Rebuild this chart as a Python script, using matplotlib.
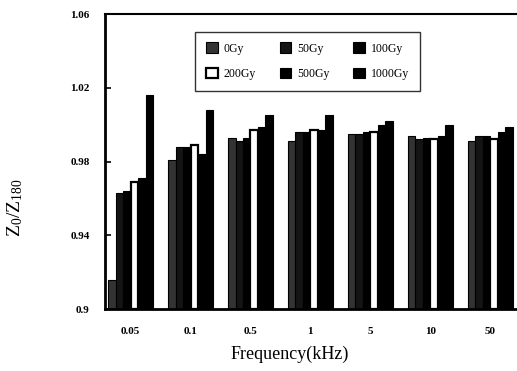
import numpy as np
import matplotlib.pyplot as plt

plt.rcParams['font.family'] = ['Liberation Serif', 'DejaVu Serif']
plt.rcParams['mathtext.fontset'] = 'custom'
plt.rcParams['mathtext.rm'] = 'Liberation Serif'

# Dados
freqs = ['0.05', '0.1', '0.5', '1', '5', '10', '50']
doses = ['0Gy', '50Gy', '100Gy', '200Gy', '500Gy', '1000Gy']
g0 = [0.916, 0.981, 0.993, 0.991, 0.995, 0.994, 0.991]
g50 = [0.963, 0.988, 0.991, 0.996, 0.995, 0.992, 0.994]
g100 = [0.964, 0.988, 0.993, 0.996, 0.996, 0.993, 0.994]
g200 = [0.969, 0.989, 0.997, 0.997, 0.996, 0.992, 0.992]
g500 = [0.971, 0.984, 0.999, 0.997, 1.000, 0.994, 0.996]
g1000 = [1.016, 1.008, 1.005, 1.005, 1.002, 1.000, 0.999]
yticks = [0.9, 0.94, 0.98, 1.02, 1.06]
ytick_labels = ['0.9', '0.94', '0.98', '1.02', '1.06']

series = [g0, g50, g100, g200, g500, g1000]
faces = ['0.2', '0.08', 'black', 'white', 'black', 'black']

fig = plt.figure(figsize=(5.17, 3.71), dpi=100)
ax = fig.add_axes([0.203, 0.167, 0.797, 0.795])

x = np.arange(len(freqs))
w = 0.125
handles = []
for i, vals in enumerate(series):
    lw = 1.6 if faces[i] == 'white' else 0.8
    b = ax.bar(x - 0.375 + w * (i + 0.5), np.array(vals) - 0.9, w, bottom=0.9,
               color=faces[i], edgecolor='black', linewidth=lw, label=doses[i])
    handles.append(b)

ax.set_xlim(-0.43, 6.45)
ax.set_ylim(0.9, 1.06)
ax.set_yticks(yticks)
ax.set_yticklabels(ytick_labels)
ax.set_xticks(x)
ax.set_xticklabels(freqs)
ax.tick_params(axis='x', length=0, pad=13, labelsize=8)
ax.tick_params(axis='y', direction='in', length=4, width=1.2, pad=11, labelsize=8)
for lab in ax.get_xticklabels() + ax.get_yticklabels():
    lab.set_fontweight('bold')

ax.spines['right'].set_visible(False)
ax.spines['left'].set_linewidth(2)
ax.spines['bottom'].set_linewidth(2)
ax.spines['top'].set_linewidth(1.5)

# Legenda em 2 linhas x 3 colunas (ordem por linha)
order = [0, 3, 1, 4, 2, 5]
leg = ax.legend([handles[k] for k in order], [doses[k] for k in order], ncol=3,
                loc='upper left', bbox_to_anchor=(0.205, 0.96), fontsize=8.5,
                frameon=True, fancybox=False, edgecolor='black',
                handlelength=1.0, handleheight=1.0, columnspacing=2.0,
                handletextpad=0.5, labelspacing=1.1, borderpad=0.9)
leg.get_frame().set_linewidth(1.0)

fig.text(290 / 517, 1 - 354 / 371, 'Frequency(kHz)', ha='center', va='center', fontsize=13)
fig.text(15 / 517, 1 - 208 / 371, r'$\mathregular{Z_0/Z_{180}}$', rotation=90,
         ha='center', va='center', fontsize=14)

plt.savefig('out.png', dpi=100)
